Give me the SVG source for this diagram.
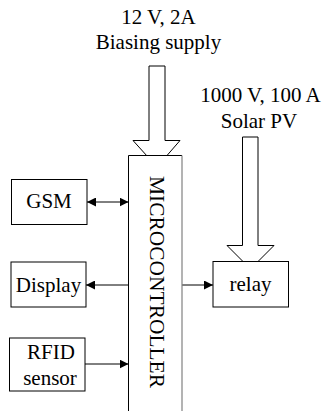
<svg xmlns="http://www.w3.org/2000/svg" width="327" height="411" viewBox="0 0 327 411">
<defs>
<marker id="ah" viewBox="0 0 10 10" refX="10" refY="5" markerWidth="9" markerHeight="9" markerUnits="userSpaceOnUse" orient="auto-start-reverse">
<path d="M0,0 L10,5 L0,10 Z" fill="#000"/>
</marker>
</defs>
<style>
text{font-family:"Liberation Serif","Times New Roman",serif;font-size:21px;fill:#000}
.box{fill:#fff;stroke:#000;stroke-width:1}
.big{fill:#fff;stroke:#000;stroke-width:1}
.con{stroke:#000;stroke-width:1;fill:none}
</style>
<rect width="327" height="411" fill="#fff"/>
<g id="labels">
<text x="158.5" y="24" text-anchor="middle">12 V, 2A</text>
<text x="158.5" y="49" text-anchor="middle">Biasing supply</text>
<text x="260.5" y="102" text-anchor="middle">1000 V, 100 A</text>
<text x="259" y="128" text-anchor="middle">Solar PV</text>
</g>
<g id="power-arrows">
<path class="big" d="M149,66 L165,66 L165,140.5 L180,140.5 L157,167 L133,140.5 L149,140.5 Z"/>
<path class="big" d="M242.5,137 L258,137 L258,245.5 L274,245.5 L250.5,269 L227,245.5 L242.5,245.5 Z"/>
</g>
<g id="connectors">
<line class="con" x1="87" y1="202" x2="128.5" y2="202" marker-start="url(#ah)" marker-end="url(#ah)"/>
<line class="con" x1="128.5" y1="285" x2="86" y2="285" marker-end="url(#ah)"/>
<line class="con" x1="182" y1="285" x2="213" y2="285" marker-end="url(#ah)"/>
<line class="con" x1="85" y1="364" x2="128.5" y2="364" marker-end="url(#ah)"/>
</g>
<g id="microcontroller">
<rect x="128.5" y="155.5" width="53.5" height="260" fill="#fff" stroke="none"/>
<path d="M128.5,411 L128.5,155.5 L182,155.5" fill="none" stroke="#000" stroke-width="1"/>
<line x1="182" y1="155.5" x2="182" y2="411" stroke="#808080" stroke-width="1.2"/>
<text transform="translate(149.5,176) rotate(90)" x="0" y="0" textLength="212" lengthAdjust="spacingAndGlyphs">MICROCONTROLLER</text>
</g>
<g id="gsm">
<rect class="box" x="11.5" y="179.5" width="75.5" height="45"/>
<text x="49" y="208" text-anchor="middle">GSM</text>
</g>
<g id="display">
<rect class="box" x="11" y="262" width="75" height="45"/>
<text x="48.5" y="292" text-anchor="middle">Display</text>
</g>
<g id="relay">
<rect class="box" x="213" y="261.5" width="75.5" height="45.5"/>
<text x="250.5" y="291" text-anchor="middle">relay</text>
</g>
<g id="rfid">
<rect class="box" x="9.5" y="338" width="75.5" height="53"/>
<text x="51" y="359" text-anchor="middle">RFID</text>
<text x="50" y="385" text-anchor="middle">sensor</text>
</g>
</svg>
